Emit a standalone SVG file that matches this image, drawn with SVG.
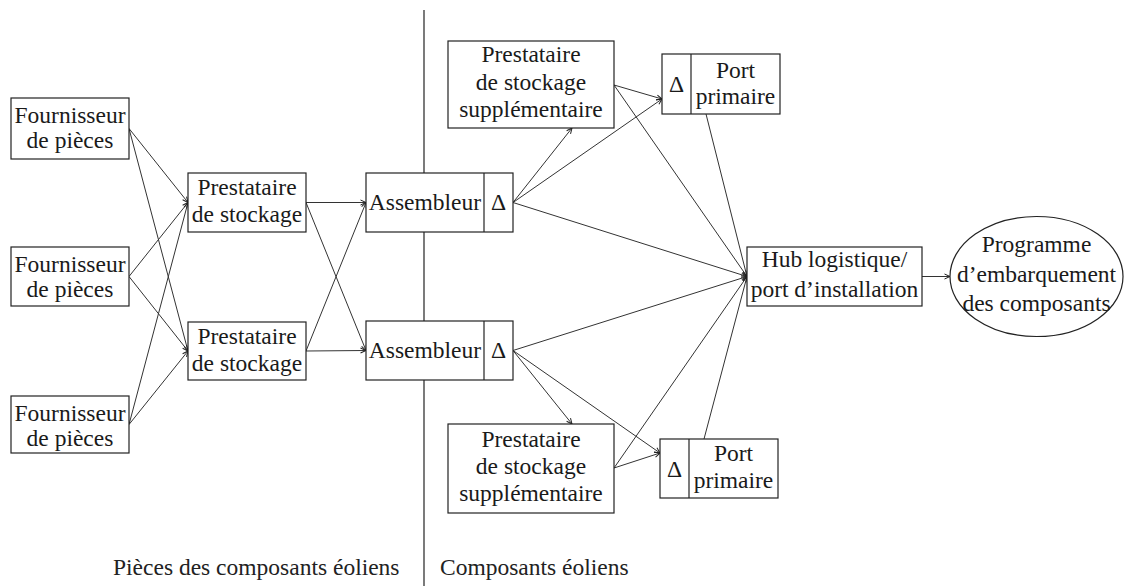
<svg xmlns="http://www.w3.org/2000/svg" width="1132" height="586" viewBox="0 0 1132 586">
<style>
  .box{fill:#fff;stroke:#222;stroke-width:1.2}
  .div{stroke:#222;stroke-width:1.2}
  .t{font-family:'Liberation Serif','Times New Roman',serif;font-size:23.5px;fill:#1a1a1a;text-anchor:middle}
  .lbl{font-family:'Liberation Serif','Times New Roman',serif;font-size:23.5px;fill:#222}
  .a{fill:none;stroke:#333;stroke-width:1;marker-end:url(#arr)}
</style>
<defs>
  <marker id="arr" markerUnits="userSpaceOnUse" markerWidth="8" markerHeight="8" refX="6" refY="3" orient="auto" overflow="visible">
    <path d="M0.5,0.5 L6,3 L0.5,5.5" fill="none" stroke="#222" stroke-width="1"/>
  </marker>
</defs>
<rect width="1132" height="586" fill="#fff"/>
<line x1="424" y1="10" x2="424" y2="586" stroke="#222" stroke-width="1.2"/>
<g id="connectors">
  <line class="a" x1="129" y1="128.5" x2="188" y2="202.5"/>
  <line class="a" x1="129" y1="128.5" x2="188" y2="351"/>
  <line class="a" x1="129" y1="276.5" x2="188" y2="202.5"/>
  <line class="a" x1="129" y1="276.5" x2="188" y2="351"/>
  <line class="a" x1="129" y1="424.5" x2="188" y2="202.5"/>
  <line class="a" x1="129" y1="424.5" x2="188" y2="351"/>
  <line class="a" x1="306" y1="202.5" x2="366" y2="202.5"/>
  <line class="a" x1="306" y1="202.5" x2="366" y2="350.5"/>
  <line class="a" x1="306" y1="351" x2="366" y2="202.5"/>
  <line class="a" x1="306" y1="351" x2="366" y2="350.5"/>
  <line class="a" x1="513" y1="202.5" x2="572" y2="128"/>
  <line class="a" x1="513" y1="202.5" x2="662" y2="99"/>
  <line class="a" x1="513" y1="202.5" x2="747" y2="276.5"/>
  <line class="a" x1="614" y1="85" x2="662" y2="99"/>
  <line class="a" x1="614" y1="85" x2="747" y2="276.5"/>
  <line class="a" x1="706" y1="114" x2="747" y2="276.5"/>
  <line class="a" x1="513" y1="350.5" x2="747" y2="276.5"/>
  <line class="a" x1="513" y1="350.5" x2="572" y2="424"/>
  <line class="a" x1="513" y1="350.5" x2="660" y2="453"/>
  <line class="a" x1="614" y1="468" x2="660" y2="453"/>
  <line class="a" x1="614" y1="468" x2="747" y2="276.5"/>
  <line class="a" x1="704" y1="439" x2="747" y2="276.5"/>
  <line class="a" x1="922" y1="276.5" x2="950" y2="276.5"/>
</g>
<g id="fournisseur1">
  <rect class="box" x="11" y="98" width="118" height="61"/>
  <text class="t" x="70" y="122.5">Fournisseur</text>
  <text class="t" x="70" y="148">de pièces</text>
</g>
<g id="fournisseur2">
  <rect class="box" x="11" y="247" width="118" height="59"/>
  <text class="t" x="70" y="271.5">Fournisseur</text>
  <text class="t" x="70" y="297">de pièces</text>
</g>
<g id="fournisseur3">
  <rect class="box" x="11" y="396" width="118" height="57"/>
  <text class="t" x="70" y="420.5">Fournisseur</text>
  <text class="t" x="70" y="446">de pièces</text>
</g>
<g id="stockage1">
  <rect class="box" x="188" y="173" width="118" height="59"/>
  <text class="t" x="247" y="195">Prestataire</text>
  <text class="t" x="247" y="221.5">de stockage</text>
</g>
<g id="stockage2">
  <rect class="box" x="188" y="322" width="118" height="58"/>
  <text class="t" x="247" y="344">Prestataire</text>
  <text class="t" x="247" y="370.5">de stockage</text>
</g>
<g id="assembleur1">
  <rect class="box" x="366" y="173" width="147" height="59"/>
  <line class="div" x1="484" y1="173" x2="484" y2="232"/>
  <text class="t" x="425" y="210">Assembleur</text>
  <text class="t" x="498.5" y="210">Δ</text>
</g>
<g id="assembleur2">
  <rect class="box" x="366" y="321" width="147" height="59"/>
  <line class="div" x1="484" y1="321" x2="484" y2="380"/>
  <text class="t" x="425" y="358">Assembleur</text>
  <text class="t" x="498.5" y="358">Δ</text>
</g>
<g id="supplementaire1">
  <rect class="box" x="448" y="41" width="166" height="87"/>
  <text class="t" x="531" y="62">Prestataire</text>
  <text class="t" x="531" y="89.5">de stockage</text>
  <text class="t" x="531" y="117">supplémentaire</text>
</g>
<g id="supplementaire2">
  <rect class="box" x="448" y="424" width="166" height="89"/>
  <text class="t" x="531" y="447">Prestataire</text>
  <text class="t" x="531" y="473.5">de stockage</text>
  <text class="t" x="531" y="501">supplémentaire</text>
</g>
<g id="port1">
  <rect class="box" x="662" y="54" width="118" height="60"/>
  <line class="div" x1="691" y1="54" x2="691" y2="114"/>
  <text class="t" x="676.5" y="92">Δ</text>
  <text class="t" x="735.5" y="78">Port</text>
  <text class="t" x="735.5" y="104">primaire</text>
</g>
<g id="port2">
  <rect class="box" x="660" y="439" width="118" height="59"/>
  <line class="div" x1="689" y1="439" x2="689" y2="498"/>
  <text class="t" x="674.5" y="477">Δ</text>
  <text class="t" x="733.5" y="461">Port</text>
  <text class="t" x="733.5" y="488">primaire</text>
</g>
<g id="hub">
  <rect class="box" x="747" y="247" width="175" height="59"/>
  <text class="t" x="834.5" y="267">Hub logistique/</text>
  <text class="t" x="834.5" y="297">port d’installation</text>
</g>
<g id="programme">
  <ellipse class="box" cx="1036.5" cy="276.5" rx="86.5" ry="60"/>
  <text class="t" x="1036.5" y="252">Programme</text>
  <text class="t" x="1036.5" y="282">d’embarquement</text>
  <text class="t" x="1036.5" y="311">des composants</text>
</g>
<g id="labels">
  <text class="lbl" x="113" y="575">Pièces des composants éoliens</text>
  <text class="lbl" x="440" y="575">Composants éoliens</text>
</g>
</svg>
